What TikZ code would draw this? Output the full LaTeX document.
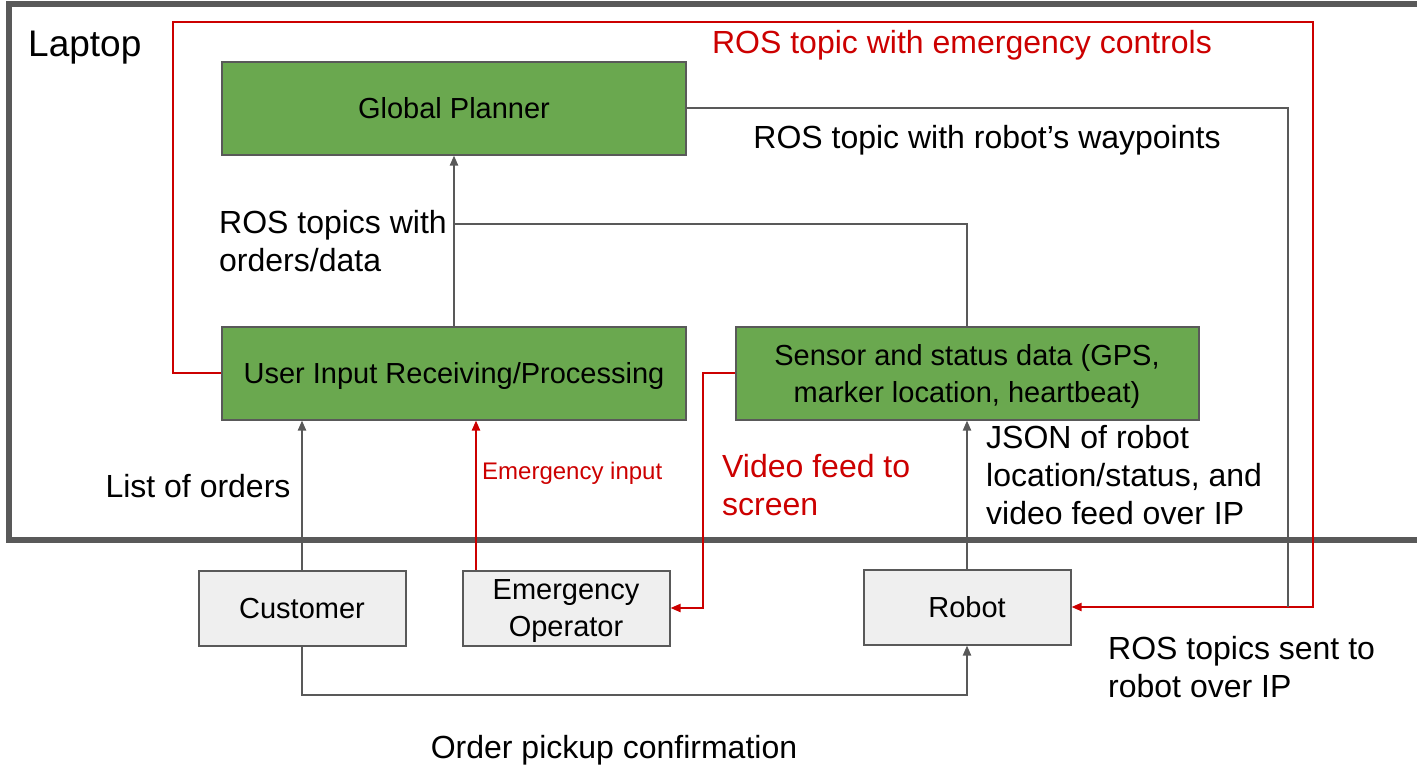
\documentclass[tikz,border=0pt]{standalone}
\usepackage{fontspec}
\setmainfont{Liberation Sans}
\usetikzlibrary{arrows.meta}
\definecolor{boxgreen}{HTML}{6AA84F}
\definecolor{edgegray}{HTML}{595959}
\definecolor{boxgray}{HTML}{EFEFEF}
\definecolor{linered}{HTML}{CC0000}
\tikzset{
	block/.style={draw=edgegray, line width=2pt, inner sep=0pt, align=center, text depth=0pt, font=\fontsize{29}{37}\selectfont},
	greenblock/.style={block, fill=boxgreen, minimum width=464pt, minimum height=93pt},
	greyblock/.style={block, fill=boxgray, minimum width=207pt, minimum height=75pt},
	conn/.style={draw=edgegray, line width=2pt, -{Triangle[length=10pt,width=8pt]}},
	plainconn/.style={draw=edgegray, line width=2pt},
	redconn/.style={draw=linered, line width=2pt, -{Triangle[length=10pt,width=8pt]}},
	lbl/.style={inner sep=0pt, align=left, font=\fontsize{32}{38}\selectfont},
}
\begin{document}
\begin{tikzpicture}[x=1pt, y=-1pt]
		\useasboundingbox (0, 0) rectangle (1417, 766);

		\draw[edgegray, line width=6pt]	(1425, 4) -- (9, 4) -- (9, 540) -- (1425, 540);
		\node[lbl, anchor=west] (laptop) at (28, 48) {\fontsize{37}{44}\selectfont Laptop};

		\node[greenblock] (planner) at (454, 108) {Global Planner};
		\node[greenblock] (input) at (454, 373) {User Input Receiving/Processing};
		\node[greenblock, minimum width=463pt] (sensor) at (967, 373) {Sensor and status data (GPS,\\marker location, heartbeat)};

		\node[greyblock] (customer) at (302, 608) {Customer};
		\node[greyblock] (operator) at (566, 608) {Emergency\\Operator};
		\node[greyblock] (robot) at (967, 607) {Robot};

		\coordinate (redtl) at (173, 22);
		\coordinate (redtr) at (1313, 22);
		\coordinate (datajoin) at (454, 224);
		\coordinate (wayjoin) at (1288, 607);
		\coordinate (videobend) at (703, 373);
		\coordinate (pickbend) at (302, 695);

		\draw[redconn]	(input.west) -| (redtl) -- (redtr) |- (robot.east);
		\draw[plainconn]	(planner.east) -| (wayjoin);
		\draw[conn]	(input.north) -- (planner.south);
		\draw[plainconn]	(sensor.north) |- (datajoin);
		\draw[conn]	(customer.north) -- (customer.north |- input.south);
		\draw[redconn]	([xshift=-90pt]operator.north) -- ([xshift=-90pt]operator.north |- input.south);
		\draw[redconn]	(sensor.west) -- (videobend) |- (operator.east);
		\draw[conn]	(robot.north) -- (sensor.south);
		\draw[conn]	(customer.south) -- (pickbend) -| (robot.south);

		\node[lbl, text=linered] (emerglbl) at (962, 45) {ROS topic with emergency controls};
		\node[lbl] (waylbl) at (987, 140) {ROS topic with robot’s waypoints};
		\node[lbl, anchor=west] (datalbl) at (219, 241) {ROS topics with\\orders/data};
		\node[lbl] (orderlbl) at (198, 486) {List of orders};
		\node[lbl, text=linered, font=\fontsize{24}{29}\selectfont, anchor=west] (inputlbl) at (482, 473) {Emergency input};
		\node[lbl, text=linered, anchor=west] (videolbl) at (722, 485) {Video feed to\\screen};
		\node[lbl, anchor=west] (jsonlbl) at (986, 475) {JSON of robot\\location/status, and\\video feed over IP};
		\node[lbl, anchor=west] (sentlbl) at (1108, 667) {ROS topics sent to\\robot over IP};
		\node[lbl] (pickuplbl) at (614, 750) {Order pickup confirmation};
\end{tikzpicture}
\end{document}
